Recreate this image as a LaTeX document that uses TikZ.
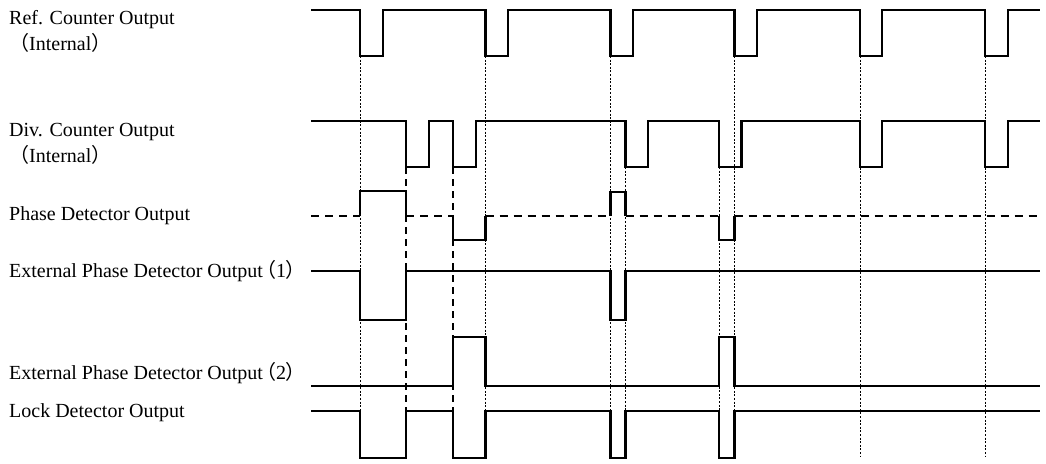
\documentclass[tikz,border=0pt]{standalone}
\usepackage{fontspec}
\setmainfont{Liberation Serif}
\newfontfamily\cjk{Noto Sans CJK JP}
\newfontfamily\cjkp[RawFeature=+palt]{Noto Sans CJK JP}
\begin{document}
\begin{tikzpicture}[x=1pt,y=-1pt,
  wave/.style={line width=2.2pt,line join=miter},
  base/.style={line width=1.4pt,dash pattern=on 8pt off 6pt},
  guide/.style={line width=0.9pt,dash pattern=on 2pt off 1.6pt},
  lguide/.style={line width=1.1pt,dash pattern=on 7pt off 5pt},
  lbl/.style={inner sep=0pt,anchor=base west,font=\fontsize{20}{24}\selectfont}]
\useasboundingbox (0,0) rectangle (1046,463);
% labels
\node[lbl] (l1) at (9,24) {Ref. Counter Output};
\node[lbl] (l1b) at (9,50) {{\cjk （}Internal{\cjk ）}};
\node[lbl] (l2) at (9,136) {Div. Counter Output};
\node[lbl] (l2b) at (9,162) {{\cjk （}Internal{\cjk ）}};
\node[lbl] (l3) at (9,220) {Phase Detector Output};
\node[lbl] (l4) at (9,277) {External Phase Detector Output\kern3pt{\cjkp （}1{\cjkp ）}};
\node[lbl] (l5) at (9,379) {External Phase Detector Output\kern3pt{\cjkp （}2{\cjkp ）}};
\node[lbl] (l6) at (9,417) {Lock Detector Output};
% guides dotted
\draw[guide] (360,56) -- (360,458);
\draw[guide] (485.5,56) -- (485.5,411);
\draw[guide] (610.5,56) -- (610.5,458);
\draw[guide] (625.5,167) -- (625.5,411);
\draw[guide] (719,167) -- (719,458);
\draw[guide] (734.5,56) -- (734.5,411);
\draw[guide] (860,56) -- (860,456);
\draw[guide] (985,56) -- (985,456);
% guides long dashed
\draw[lguide] (406,167) -- (406,411);
\draw[lguide] (453,167) -- (453,411);
% Ref counter
\draw[wave] (311,10) -- (360,10) -- (360,56) -- (383,56) -- (383,10) -- (485.5,10) -- (485.5,56) -- (508,56) -- (508,10) -- (610.5,10) -- (610.5,56) -- (633,56) -- (633,10) -- (734.5,10) -- (734.5,56) -- (757,56) -- (757,10) -- (860,10) -- (860,56) -- (882,56) -- (882,10) -- (985,10) -- (985,56) -- (1008,56) -- (1008,10) -- (1040,10);
% Div counter
\draw[wave] (311,121) -- (406,121) -- (406,167) -- (429,167) -- (429,121) -- (453,121) -- (453,167) -- (476,167) -- (476,121) -- (625.5,121) -- (625.5,167) -- (648,167) -- (648,121) -- (719,121) -- (719,167) -- (741.5,167) -- (741.5,121) -- (860,121) -- (860,167) -- (882,167) -- (882,121) -- (985,121) -- (985,167) -- (1008,167) -- (1008,121) -- (1040,121);
% Phase detector
\draw[base] (311,216) -- (360,216);
\draw[wave] (360,216) -- (360,191) -- (406,191) -- (406,216);
\draw[base] (406,216) -- (453,216);
\draw[wave] (453,216) -- (453,240) -- (485.5,240) -- (485.5,216);
\draw[base] (485.5,216) -- (610.5,216);
\draw[wave] (610.5,216) -- (610.5,192) -- (625.5,192) -- (625.5,216);
\draw[base] (625.5,216) -- (719,216);
\draw[wave] (719,216) -- (719,240) -- (734.5,240) -- (734.5,216);
\draw[base] (734.5,216) -- (1040,216);
% External PD 1
\draw[wave] (311,271) -- (360,271) -- (360,320) -- (406,320) -- (406,271) -- (610.5,271) -- (610.5,320) -- (625.5,320) -- (625.5,271) -- (1040,271);
% External PD 2
\draw[wave] (311,386) -- (453,386) -- (453,337) -- (485.5,337) -- (485.5,386) -- (719,386) -- (719,337) -- (734.5,337) -- (734.5,386) -- (1040,386);
% Lock detector
\draw[wave] (311,411) -- (360,411) -- (360,458) -- (406,458) -- (406,411) -- (453,411) -- (453,458) -- (485.5,458) -- (485.5,411) -- (610.5,411) -- (610.5,458) -- (625.5,458) -- (625.5,411) -- (719,411) -- (719,458) -- (734.5,458) -- (734.5,411) -- (1040,411);
\end{tikzpicture}
\end{document}
